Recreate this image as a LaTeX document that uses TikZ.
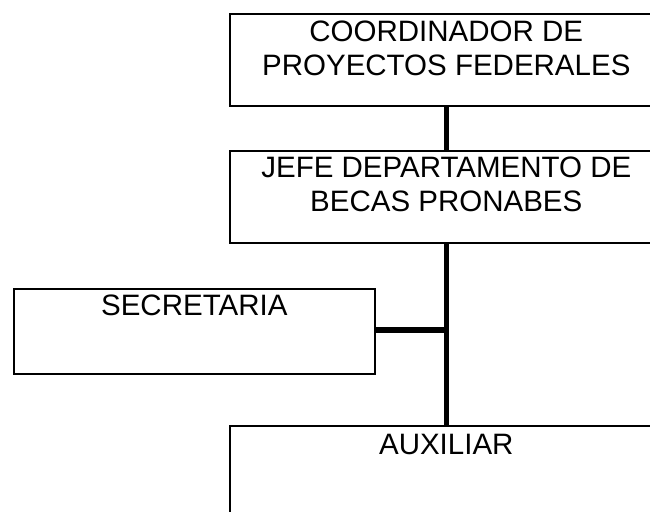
\documentclass[tikz,border=0pt]{standalone}
\usepackage{fontspec}
\setmainfont{Liberation Sans}
\begin{document}
\begin{tikzpicture}[x=1pt,y=-1pt,
  orgbox/.style={draw=black, line width=1.6pt, anchor=north west, inner sep=0pt},
  orgtext/.style={anchor=north, inner sep=0pt, align=center, font=\fontsize{29.5}{33.5}\selectfont},
  link/.style={draw=black, line width=5.5pt}]
\useasboundingbox (0,0) rectangle (650,511);
\node[orgbox, minimum width=433pt, minimum height=92pt] (b1) at (229,13) {};
\node[orgbox, minimum width=433pt, minimum height=92pt] (b2) at (229,150) {};
\node[orgbox, minimum width=361pt, minimum height=85pt] (b3) at (13,288) {};
\node[orgbox, minimum width=433pt, minimum height=100pt] (b4) at (229,425) {};
\node[orgtext] (t1) at ([yshift=-8pt]b1.north) {COORDINADOR DE\\PROYECTOS FEDERALES};
\node[orgtext] (t2) at ([yshift=-7pt]b2.north) {JEFE DEPARTAMENTO DE\\BECAS PRONABES};
\node[orgtext] (t3) at ([yshift=-7pt]b3.north) {SECRETARIA};
\node[orgtext] (t4) at ([yshift=-9pt]b4.north) {AUXILIAR};
\coordinate (j) at (b2.south |- 0,330);
\draw[link] (b1.south) -- (b2.north);
\draw[link] (b2.south) -- (b4.north);
\draw[link] (b3.east |- j) -- ([xshift=2.75pt]j);
\end{tikzpicture}
\end{document}
